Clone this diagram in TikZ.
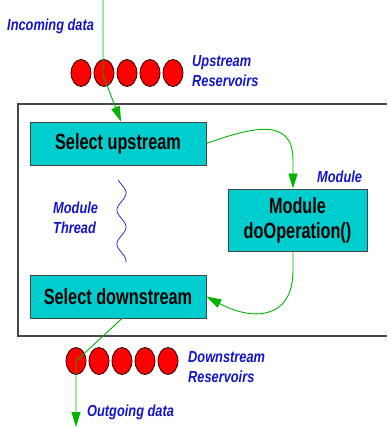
\documentclass[tikz,border=0pt]{standalone}
\usepackage{fontspec}
\setmainfont{Liberation Sans}
\newfontfamily\lblfont[FakeStretch=0.8]{Liberation Sans}
\newfontfamily\boxfont[FakeStretch=0.74]{Liberation Sans}
\usetikzlibrary{shapes.geometric,arrows.meta}
\definecolor{boxcyan}{RGB}{0,206,206}
\definecolor{lblblue}{RGB}{20,20,200}
\definecolor{flowgreen}{RGB}{0,180,0}
\definecolor{framegray}{RGB}{70,70,70}
\begin{document}
\begin{tikzpicture}[x=1pt,y=-1pt,
  lbl/.style={font=\lblfont\bfseries\itshape\fontsize{16}{20}\selectfont, text=lblblue, inner sep=0pt},
  procbox/.style={draw=framegray, line width=0.9pt, fill=boxcyan, rectangle, inner sep=0pt,
     font=\boxfont\bfseries\fontsize{22}{25}\selectfont, align=center},
  resv/.style={ellipse, draw=black, line width=0.7pt, fill=red, minimum width=20pt, minimum height=27pt, inner sep=0pt},
  flow/.style={draw=flowgreen, line width=0.9pt},
  flowarrow/.style={flow, -{Triangle[length=15pt,width=9pt]}, fill=none}
]
\useasboundingbox (0,0) rectangle (387,427);
% outer frame (open on the right, runs to the edge)
\coordinate (ftr) at (387,104);
\coordinate (ftl) at (18,104);
\coordinate (fbl) at (18,336);
\coordinate (fbr) at (387,336);
\draw[draw=framegray, line width=1.1pt] (ftr) -- (ftl) -- (fbl) -- (fbr);

% reservoirs
\foreach \i/\x in {1/81,2/104,3/127,4/150,5/173} {
  \node[resv] (u\i) at (\x,73) {};
}
\foreach \i/\x in {1/76,2/99,3/122,4/145,5/168} {
  \node[resv] (d\i) at (\x,361) {};
}

% boxes
\node[procbox, minimum width=176pt, minimum height=43pt] (selup) at (118,143.5) {Select upstream};
\node[procbox, minimum width=176pt, minimum height=43pt] (seldown) at (118,296.5) {Select downstream};
\node[procbox, minimum width=139pt, minimum height=62pt] (mod) at (297.5,220) {Module\\doOperation()};

% labels
\node[lbl, anchor=base west] (incoming) at (7,31) {Incoming data};
\node[lbl, anchor=base west] (upst) at (192,67) {Upstream};
\node[lbl, anchor=base west] (upres) at (192,87) {Reservoirs};
\node[lbl, anchor=base west] (modlbl) at (317,183) {Module};
\node[lbl, anchor=base west] (mt1) at (53,213) {Module};
\node[lbl, anchor=base west] (mt2) at (53,233) {Thread};
\node[lbl, anchor=base west] (downst) at (188,362) {Downstream};
\node[lbl, anchor=base west] (downres) at (188,382) {Reservoirs};
\node[lbl, anchor=base west] (outgoing) at (87,416) {Outgoing data};

% thread wave
\draw[lblblue, line width=0.7pt, domain=180:262, samples=90, smooth, variable=\t]
  plot ({121.5+4.5*sin((\t-193)*10.588+90)}, \t);

% flows
\coordinate (intop) at (103,-2);
\coordinate (inbend) at (103,75);
\draw[flowarrow] (intop) -- (inbend) -- ([xshift=3pt]selup.north);
\draw[flowarrow] (selup.east) .. controls (255,126) and (293,118) .. (293,160) -- ([xshift=-4.5pt]mod.north);
\draw[flowarrow] ([xshift=-4.5pt]mod.south) -- (293,270) .. controls (293,322) and (250,320) .. (seldown.east);
\coordinate (outbend) at (76,361);
\coordinate (outend) at (76,427);
\draw[flowarrow] ([xshift=4pt]seldown.south) -- (outbend) -- (outend);
\end{tikzpicture}
\end{document}
